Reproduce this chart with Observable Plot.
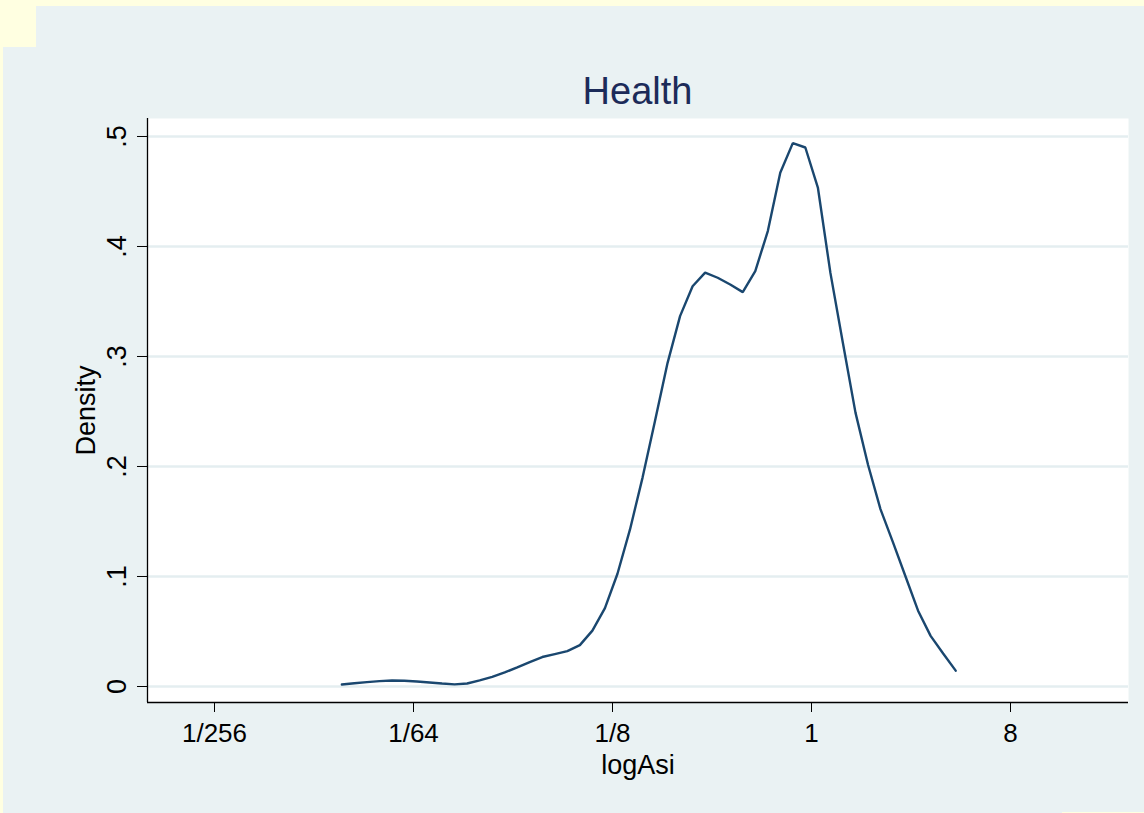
<!DOCTYPE html>
<html>
<head>
<meta charset="utf-8">
<script src="https://cdn.jsdelivr.net/npm/d3@7"></script>
<script src="https://cdn.jsdelivr.net/npm/@observablehq/plot@0.6"></script>
<style>
  html, body { margin: 0; padding: 0; }
  body { width: 1144px; height: 813px; overflow: hidden; font-family: "Liberation Sans", Arial, sans-serif; }
  #wrap { position: relative; width: 1144px; height: 813px; background: #ffffe1; }
  .bg { position: absolute; background: #eaf2f3; }
  #title { position: absolute; left: 147px; width: 981px; top: 72px; height: 38px; line-height: 38px;
           text-align: center; font-size: 38px; color: #1c2b59; font-family: "Liberation Sans", Arial, sans-serif; }
  #chart { position: absolute; left: 0; top: 112px; }
</style>
</head>
<body>
<div id="wrap">
  <div class="bg" style="left:36px; top:6px; right:0; bottom:1px;"></div>
  <div class="bg" style="left:3px; top:47px; right:0; bottom:1px;"></div>
  <div class="bg" style="left:3px; top:812px; width:1059px; height:1px;"></div>
  <div id="title">Health</div>
  <div id="chart"></div>
</div>
<script>
// kernel density estimate of logAsi (50 evaluation points)
const logAsi = [
  -4.720, -4.594, -4.468, -4.342, -4.216, -4.091, -3.965, -3.839, -3.713, -3.587,
  -3.461, -3.335, -3.209, -3.083, -2.957, -2.832, -2.706, -2.580, -2.454, -2.328,
  -2.202, -2.076, -1.950, -1.824, -1.698, -1.573, -1.447, -1.321, -1.195, -1.069,
  -0.943, -0.817, -0.691, -0.565, -0.439, -0.314, -0.188, -0.062,  0.064,  0.190,
   0.316,  0.442,  0.568,  0.693,  0.819,  0.945,  1.071,  1.197,  1.323,  1.449
];
const density = [
  0.0018, 0.0030, 0.0040, 0.0049, 0.0054, 0.0052, 0.0046, 0.0037, 0.0027, 0.0019,
  0.0027, 0.0056, 0.0088, 0.0128, 0.0174, 0.0222, 0.0268, 0.0295, 0.0322, 0.0376,
  0.0508, 0.0712, 0.1025, 0.1428, 0.1899, 0.2413, 0.2940, 0.3367, 0.3639, 0.3763,
  0.3716, 0.3655, 0.3585, 0.3777, 0.4140, 0.4670, 0.4940, 0.4900, 0.4536, 0.3760,
  0.3120, 0.2490, 0.2016, 0.1613, 0.1310, 0.1000, 0.0689, 0.0460, 0.0300, 0.0144
];
const xTickValues = [-6, -4, -2, 0, 2];
const xTickLabels = ["1/256", "1/64", "1/8", "1", "8"];
const yTickValues = [0, 0.1, 0.2, 0.3, 0.4, 0.5];
const yTickLabels = ["0", ".1", ".2", ".3", ".4", ".5"];
const titleText = "Health";
const xTitle = "logAsi";
const yTitle = "Density";

const points = logAsi.map((x, i) => ({x, y: density[i]}));
const xDomain = [-6.6734, 3.1859];
const yDomain = [-0.014545, 0.51636];

const chart = Plot.plot({
  width: 1144,
  height: 701,
  marginLeft: 147,
  marginRight: 16,
  marginTop: 6,
  marginBottom: 111,
  style: { background: "transparent", fontFamily: "Liberation Sans, Arial, sans-serif", color: "#000" },
  x: { domain: xDomain, axis: null },
  y: { domain: yDomain, axis: null },
  marks: [
    Plot.frame({ fill: "white", stroke: "none" }),
    Plot.ruleY(yTickValues, { stroke: "#e4eef0", strokeWidth: 2.5 }),
    Plot.line(points, { x: "x", y: "y", stroke: "#1a476f", strokeWidth: 2.4, strokeLinejoin: "miter" }),
    Plot.ruleX([xDomain[0]], { stroke: "#000", strokeWidth: 1.3 }),
    Plot.ruleY([yDomain[0]], { stroke: "#000", strokeWidth: 1.3 }),
    Plot.axisY(yTickValues, {
      anchor: "left", label: null, tickSize: 10, tickPadding: 12, tickRotate: -90,
      tickFormat: (d, i) => yTickLabels[i], fontSize: 27, stroke: "#000", fill: "#000"
    }),
    Plot.axisX(xTickValues, {
      anchor: "bottom", label: null, tickSize: 10, tickPadding: 11,
      tickFormat: (d, i) => xTickLabels[i], fontSize: 26, stroke: "#000", fill: "#000"
    }),
    Plot.text([yTitle], { frameAnchor: "left", dx: -53, rotate: -90, lineAnchor: "bottom", textAnchor: "middle", fontSize: 27, fill: "#000" }),
    Plot.text([xTitle], { frameAnchor: "bottom", dy: 71, lineAnchor: "bottom", textAnchor: "middle", fontSize: 27, fill: "#000" })
  ]
});
document.getElementById("chart").appendChild(chart);
document.getElementById("title").textContent = titleText;
</script>
</body>
</html>
